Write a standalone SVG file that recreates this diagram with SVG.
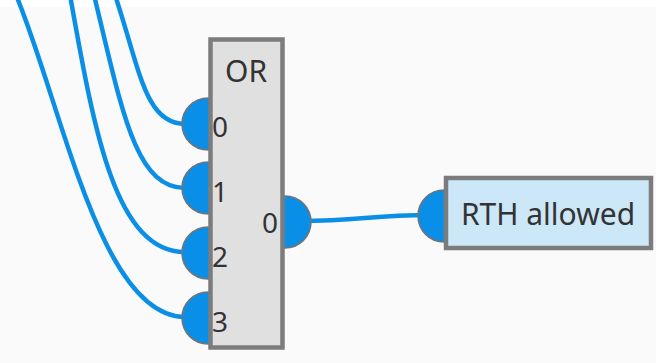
<svg xmlns="http://www.w3.org/2000/svg" width="656" height="363" viewBox="0 0 656 363">
  <style>
    .wire { fill: none; stroke: #0b8fe6; stroke-width: 4.5; stroke-linecap: round; }
    .port { fill: #0a8fe8; stroke: #747474; stroke-width: 1.5; }
    .box { stroke: #7c7c7c; stroke-width: 4.5; }
    .lbl { font-family: "Noto Sans", "Open Sans", sans-serif; font-size: 28px; fill: #333; }
    .name { font-size: 30px; }
  </style>
  <rect x="0" y="0" width="656" height="363" fill="#fafafa"/>
  <rect x="0" y="0" width="656" height="7" fill="#ffffff"/>

  <g id="connectors">
    <path class="wire" d="M 115,-5 C 140,70 145,124 185,124"/>
    <path class="wire" d="M 94,-5 C 122,110 135,188 185,188"/>
    <path class="wire" d="M 70,-5 C 94,130 115,252 185,252"/>
    <path class="wire" d="M 16,-5 C 62,105 100,317 185,317"/>
    <path class="wire" d="M 300,221 C 360,221 370,215 430,215"/>
  </g>

  <g id="or-node">
    <circle class="port" cx="208" cy="124" r="26"/>
    <circle class="port" cx="208" cy="188" r="26"/>
    <circle class="port" cx="208" cy="253" r="26"/>
    <circle class="port" cx="208" cy="318" r="26"/>
    <circle class="port" cx="285" cy="222" r="26"/>
    <rect class="box" x="210.5" y="39.5" width="72" height="308" fill="#e0e0e0"/>
    <text class="lbl name" x="246" y="82" text-anchor="middle">OR</text>
    <text class="lbl" x="212" y="137">0</text>
    <text class="lbl" x="212" y="202">1</text>
    <text class="lbl" x="212" y="267">2</text>
    <text class="lbl" x="212" y="332">3</text>
    <text class="lbl" x="278" y="233" text-anchor="end">0</text>
  </g>

  <g id="rth-node">
    <circle class="port" cx="444" cy="216" r="26"/>
    <rect class="box" x="446" y="178" width="205" height="70" fill="#cce8f8"/>
    <text class="lbl name" x="548" y="225" text-anchor="middle">RTH allowed</text>
  </g>
</svg>
